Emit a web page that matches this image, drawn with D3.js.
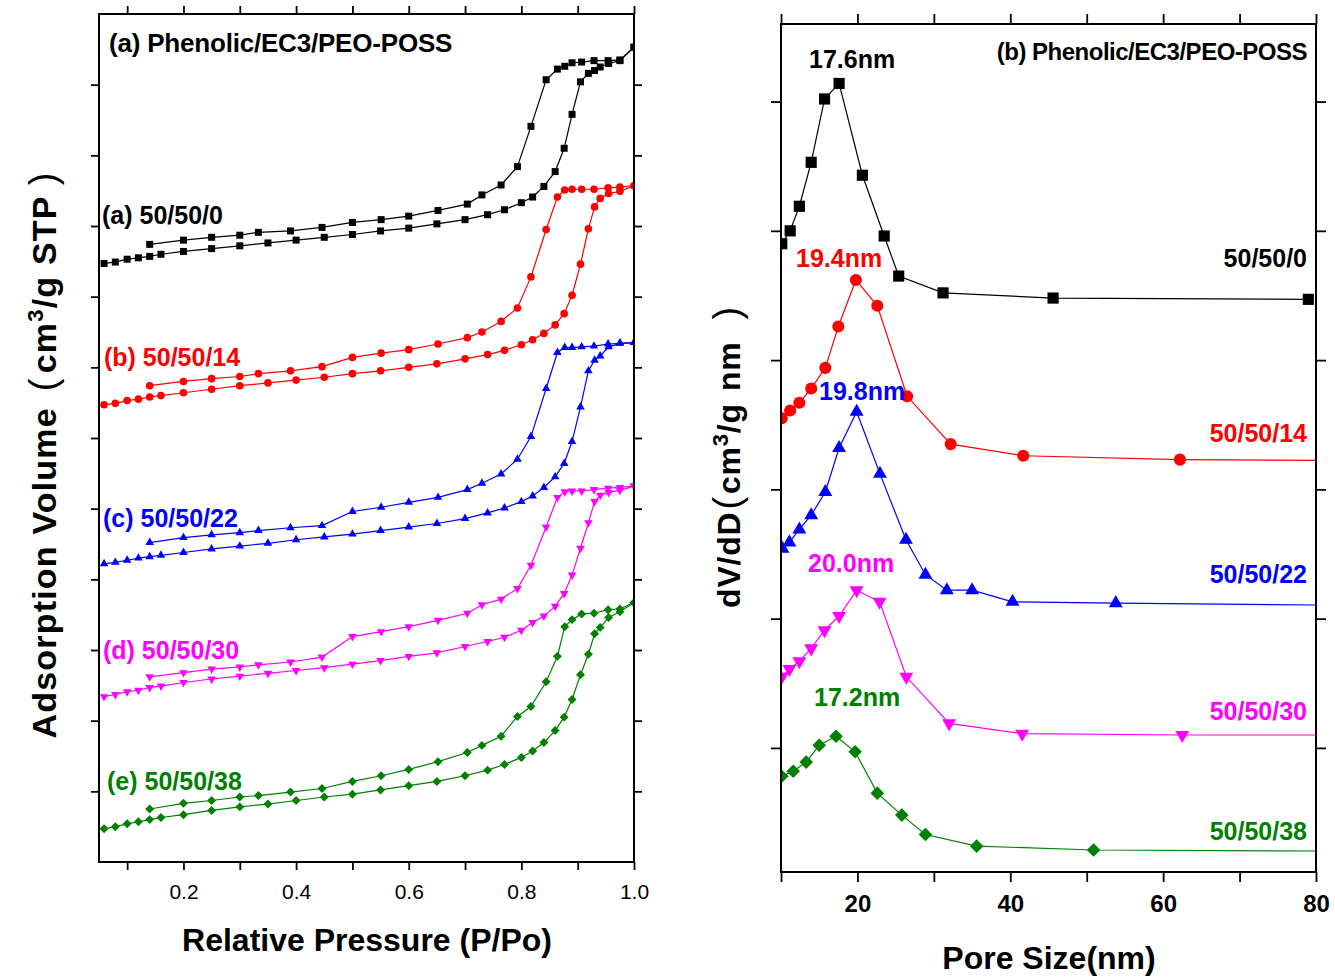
<!DOCTYPE html>
<html>
<head>
<meta charset="utf-8">
<script src="https://cdn.jsdelivr.net/npm/d3@7"></script>
<style>
  body { margin: 0; background: #fff; }
  svg text { font-family: Arial, "Liberation Sans", sans-serif; }
</style>
</head>
<body>
<script>
// ---- (a) N2 isotherms: relative pressure points (shared by all samples) ----
const pAds = [0.059,0.079,0.10,0.12,0.14,0.16,0.20,0.25,0.30,0.35,0.40,0.45,0.50,0.55,0.60,0.65,0.70,0.74,0.77,0.80,0.82,0.84,0.86,0.876,0.89,0.905,0.919,0.93,0.94,0.955,0.975,1.0];
const pDes = [1.0,0.975,0.954,0.929,0.907,0.89,0.877,0.864,0.844,0.817,0.793,0.764,0.73,0.704,0.652,0.60,0.551,0.50,0.446,0.39,0.333,0.30,0.25,0.20,0.14];

// adsorbed volume (offset curves, arbitrary units)
const adsA = [847,849,853,855,857,860,864,868,872,876,880,884,888,893,897,903,909,916,923,933,941,956,977,1010,1058,1104,1116,1120,1125,1130,1134,1153];
const desA = [1153,1135,1134,1134,1132,1131,1126,1122,1107,1041,984,958,944,931,922,914,909,905,898,893,891,887,884,880,874];
const adsB = [647,649,653,655,658,660,664,669,674,678,682,686,691,695,700,705,712,718,724,732,739,748,760,776,802,846,896,927,939,946,949,957];
const desB = [957,955,954,952,952,952,951,941,895,828,784,765,750,742,733,725,720,714,701,695,691,687,684,680,674];
const adsC = [422,424,427,430,432,434,438,443,447,451,456,460,464,469,474,479,486,494,501,510,518,530,545,564,595,644,695,710,716,729,734,735];
const desC = [735,734,733,730,729,728,728,721,670,602,570,549,536,527,516,509,502,496,476,473,469,466,463,459,452];
const adsD = [234,237,241,243,247,249,254,259,263,267,271,275,280,285,291,296,305,312,318,328,339,348,362,380,406,444,480,510,519,523,526,532];
const desD = [532,530,529,527,525,525,524,516,474,420,387,372,364,352,342,333,326,319,290,283,279,276,273,268,262];
const adsE = [47,50,54,57,60,63,67,73,78,82,87,92,96,102,108,114,122,130,138,148,157,169,186,205,230,265,294,323,332,346,354,367];
const desE = [367,358,357,352,351,343,333,291,255,220,206,178,165,155,142,131,122,114,104,99,94,92,87,83,75];

// ---- (b) pore size distribution ----
const poreA = [10.1,11.2,12.4,13.95,15.7,17.6,20.65,23.5,25.4,31.2,45.6,79.0];
const dvA   = [4.90,5.00,5.19,5.53,6.02,6.14,5.43,4.96,4.65,4.52,4.48,4.47];
const poreB = [10.1,11.2,12.4,13.95,15.8,17.5,19.8,22.6,26.5,32.2,41.7,62.2,90];
const dvB   = [3.55,3.61,3.67,3.78,3.94,4.26,4.62,4.42,3.72,3.35,3.26,3.23,3.22];
const poreC = [10.2,11.1,12.4,13.95,15.8,17.6,19.9,22.95,26.35,28.9,31.7,35.0,40.3,53.8,90];
const dvC   = [2.54,2.59,2.69,2.80,2.98,3.32,3.60,3.12,2.61,2.34,2.22,2.22,2.13,2.12,2.10];
const poreD = [10.1,11.1,12.4,13.95,15.7,17.6,19.9,22.9,26.4,32.0,41.55,62.5,90];
const dvD   = [1.55,1.61,1.67,1.77,1.91,2.02,2.22,2.13,1.55,1.19,1.11,1.10,1.10];
const poreE = [10.1,11.6,13.3,15.0,17.2,19.7,22.6,25.8,28.9,35.6,50.9,90];
const dvE   = [0.78,0.82,0.89,1.02,1.09,0.97,0.65,0.48,0.33,0.24,0.21,0.20];

const sampleNames = ["50/50/0","50/50/14","50/50/22","50/50/30","50/50/38"];
const isoLabels = ["(a) 50/50/0","(b) 50/50/14","(c) 50/50/22","(d) 50/50/30","(e) 50/50/38"];
const peakLabels = ["17.6nm","19.4nm","19.8nm","20.0nm","17.2nm"];

// tick labels
const xTicksL = [0.1,0.2,0.3,0.4,0.5,0.6,0.7,0.8,0.9,1.0];
const xLabelsL = ["","0.2","","0.4","","0.6","","0.8","","1.0"];
const yTicksL = [100,200,300,400,500,600,700,800,900,1000,1100];
const xTicksR = [10,20,30,40,50,60,70,80];
const xLabelsR = ["","20","","40","","60","","80"];
const yTicksR = [1,2,3,4,5,6];

const colors = ["#000000","#ff0000","#0000ff","#ff00ff","#008000"];
const shapes = [d3.symbolSquare, d3.symbolCircle, d3.symbolTriangle, d3.symbolTriangle, d3.symbolSquare];
const rots = [0, 0, 0, 180, 45];
const sizeL = [49, 46, 32, 32, 40];
const sizeR = [125, 115, 84, 84, 92];

const svg = d3.select("body").append("svg")
  .attr("width", 1335)
  .attr("height", 977);
svg.append("rect").attr("width", 1335).attr("height", 977).attr("fill", "#fff");

const xL = d3.scaleLinear().domain([0.05, 1.0]).range([99, 634]);
const yL = d3.scaleLinear().domain([0, 1200]).range([862, 14]);
const xR = d3.scaleLinear().domain([10, 80]).range([781, 1316]);
const yR = d3.scaleLinear().domain([0.04, 6.6]).range([872, 24]);

function frame(x, y, xTicks, xLabels, yTicks, tick, pad, fontSize, weight) {
  const [x0, x1] = x.range(), [y0, y1] = y.range();
  const g = svg.append("g");
  g.append("g").attr("transform", `translate(0,${y0})`)
    .call(d3.axisBottom(x).tickValues(xTicks).tickFormat((d, i) => xLabels[i])
      .tickSize(tick).tickSizeOuter(0).tickPadding(pad));
  g.append("g").attr("transform", `translate(0,${y1})`)
    .call(d3.axisTop(x).tickValues(xTicks).tickFormat("").tickSize(tick).tickSizeOuter(0));
  g.append("g").attr("transform", `translate(${x0},0)`)
    .call(d3.axisLeft(y).tickValues(yTicks).tickFormat("").tickSize(tick).tickSizeOuter(0));
  g.append("g").attr("transform", `translate(${x1},0)`)
    .call(d3.axisRight(y).tickValues(yTicks).tickFormat("").tickSize(tick).tickSizeOuter(0));
  g.selectAll(".domain").remove();
  g.selectAll(".tick line").attr("stroke", "#000").attr("stroke-width", 1.8);
  g.selectAll(".tick text")
    .style("font-size", fontSize + "px")
    .style("font-weight", weight)
    .style("font-family", "Arial, 'Liberation Sans', sans-serif")
    .attr("fill", "#000");
  g.append("rect")
    .attr("x", x0).attr("y", y1)
    .attr("width", x1 - x0).attr("height", y0 - y1)
    .attr("fill", "none").attr("stroke", "#000").attr("stroke-width", 2);
}

function clip(id, x, y) {
  const [x0, x1] = x.range(), [y0, y1] = y.range();
  svg.append("clipPath").attr("id", id).append("rect")
    .attr("x", x0).attr("y", y1).attr("width", x1 - x0).attr("height", y0 - y1);
  return svg.append("g").attr("clip-path", `url(#${id})`);
}

function series(g, x, y, xs, vs, i, size) {
  const pts = d3.zip(xs, vs);
  g.append("path").datum(pts)
    .attr("fill", "none")
    .attr("stroke", colors[i])
    .attr("stroke-width", 1.2)
    .attr("d", d3.line().x(d => x(d[0])).y(d => y(d[1])));
  g.selectAll(null).data(pts).enter().append("path")
    .attr("d", d3.symbol().type(shapes[i]).size(size))
    .attr("transform", d => `translate(${x(d[0])},${y(d[1])}) rotate(${rots[i]})`)
    .attr("fill", colors[i]);
}

// left panel
const gL = clip("clipL", xL, yL);
const ads = [adsA, adsB, adsC, adsD, adsE];
const des = [desA, desB, desC, desD, desE];
ads.forEach((a, i) => {
  series(gL, xL, yL, pAds, a, i, sizeL[i]);
  series(gL, xL, yL, pDes, des[i], i, sizeL[i]);
});
frame(xL, yL, xTicksL, xLabelsL, yTicksL, 8, 14, 21, "normal");

// right panel
const gR = clip("clipR", xR, yR);
const pores = [poreA, poreB, poreC, poreD, poreE];
const dvs = [dvA, dvB, dvC, dvD, dvE];
pores.forEach((p, i) => series(gR, xR, yR, p, dvs[i], i, sizeR[i]));
frame(xR, yR, xTicksR, xLabelsR, yTicksR, 10, 13, 24, "bold");

// text labels
function label(txt, x, y, size, color, anchor, spacing) {
  svg.append("text")
    .attr("x", x).attr("y", y)
    .attr("text-anchor", anchor || "start")
    .attr("fill", color)
    .style("font-size", size + "px")
    .style("font-weight", "bold")
    .style("letter-spacing", (spacing || 0) + "px")
    .text(txt);
}

label("(a) Phenolic/EC3/PEO-POSS", 109, 52, 26, "#000", "start", -0.2);
label("(b) Phenolic/EC3/PEO-POSS", 1307, 60, 24, "#000", "end", -0.5);

const isoX = [102, 104, 103, 103, 107];
const isoY = [224, 366, 527, 659, 790];
isoLabels.forEach((t, i) => label(t, isoX[i], isoY[i], 25, colors[i]));

const peakX = [809, 796, 819, 808, 814];
const peakY = [68, 267, 400, 572, 706];
peakLabels.forEach((t, i) => label(t, peakX[i], peakY[i], 25, colors[i]));

const nameY = [267, 442, 583, 720, 840];
sampleNames.forEach((t, i) => label(t, 1307, nameY[i], 25, colors[i], "end"));

// axis titles
label("Relative Pressure (P/Po)", 367, 951, 32, "#000", "middle");
label("Pore Size(nm)", 1049, 969, 32, "#000", "middle");

const yt = svg.append("text")
  .attr("transform", "translate(56,455) rotate(-90)")
  .attr("text-anchor", "middle")
  .style("font-size", "34px")
  .style("font-weight", "bold")
  .style("letter-spacing", "1.2px");
yt.append("tspan").text("Adsorption Volume");
yt.append("tspan").style("font-weight", "normal").style("font-size", "38px").attr("dx", 16).text("(");
yt.append("tspan").attr("dx", 4).text("cm");
yt.append("tspan").attr("dy", -13).style("font-size", "22px").text("3");
yt.append("tspan").attr("dy", 13).text("/g STP");
yt.append("tspan").style("font-weight", "normal").style("font-size", "38px").attr("dx", 10).text(")");

const yt2 = svg.append("text")
  .attr("transform", "translate(740,457) rotate(-90)")
  .attr("text-anchor", "middle")
  .style("font-size", "32px")
  .style("font-weight", "bold")
  .style("letter-spacing", "0.8px");
yt2.append("tspan").text("dV/dD");
yt2.append("tspan").style("font-weight", "normal").style("font-size", "38px").attr("dx", 2).text("(");
yt2.append("tspan").attr("dx", 2).text("cm");
yt2.append("tspan").attr("dy", -12).style("font-size", "22px").text("3");
yt2.append("tspan").attr("dy", 12).text("/g");
yt2.append("tspan").attr("dx", 12).text("nm");
yt2.append("tspan").style("font-weight", "normal").style("font-size", "38px").attr("dx", 22).text(")");
</script>
</body>
</html>
